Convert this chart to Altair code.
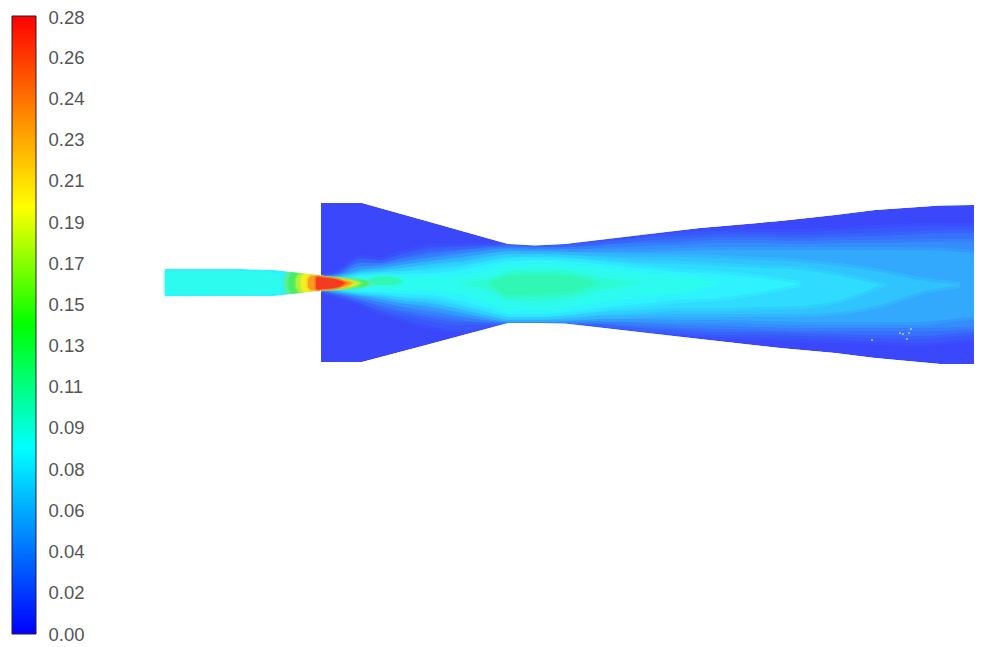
import altair as alt
import pandas as pd

# colour bar
tick_values = [0.0, 0.0188, 0.0377, 0.0565, 0.0753, 0.0942, 0.113, 0.1318, 0.1507, 0.1695, 0.1883, 0.2072, 0.226, 0.2448, 0.2637, 0.282]
bar_low, bar_high = 0.0, 0.2825
bar_left, bar_right = 12, 36
bar_offsets = [0.0, 0.30, 0.5, 0.69, 0.83, 1.0]
bar_colors = ["#0000ff", "#00ffff", "#00ff00", "#ffff00", "#ff9000", "#ff0000"]

# duct outline
wall_x = [321, 362, 430, 508, 535, 565, 700, 780, 835, 875, 940, 982]
wall_top = [203, 203, 222, 244, 245.5, 244, 228, 221, 215, 210, 205.5, 205]
wall_bot = [362, 362, 344, 323, 323, 323.5, 339, 348, 353, 358, 364, 364]
inlet_x = [165, 242, 275, 318, 321]
inlet_top = [269, 269, 270, 275, 275.5]
inlet_bot = [296.5, 296, 296, 291, 290.5]
inlet_core_x = [165, 200, 240, 280]
inlet_core_top = [272, 272, 272, 274]
inlet_core_bot = [294, 294, 294, 292]
mask_above = [190] * 12
mask_below = [378] * 12
inlet_mask_above = [255] * 5
inlet_mask_below = [310] * 5

# plume contours
px = [321, 340, 360, 380, 400, 430, 460, 490, 510, 540, 570, 600, 640, 680, 720, 760, 800, 840, 880, 920, 960, 982]
A_top = [277, 272, 258, 260, 254, 247, 246, 245, 245, 246, 244, 241, 237, 233, 231, 232, 232, 230, 228, 226, 226, 226]
A_bot = [290, 296, 303, 312, 318, 326, 330, 327, 323, 323, 323.5, 327, 331.5, 335, 337, 338, 339, 340, 342, 343, 340, 338]
B_top = [278, 274, 262, 263, 258, 252, 250, 248, 247, 248, 247, 245, 241, 239, 237, 237, 238, 237, 236, 234, 233, 233]
B_bot = [289, 294, 300, 307, 312, 318, 322, 322, 322, 322, 322, 324, 328, 330, 332, 332, 333, 334, 335, 336, 333, 332]
C_top = [279, 276, 266, 266, 262, 257, 253, 250, 249, 250, 250, 248, 246, 245, 243, 243, 244, 243, 243, 242, 242, 241]
C_bot = [288, 292, 297, 302, 307, 312, 317, 320, 321, 321, 321, 321, 323, 325, 326, 327, 328, 328, 328, 328, 327, 326]
D_top = [279, 277, 270, 268, 265, 261, 257, 253, 251, 252, 252, 252, 252, 251, 250, 250, 250, 250, 250, 250, 252, 254]
D_bot = [288, 291, 295, 299, 303, 307, 313, 318, 320, 320, 320, 319, 319, 320, 320, 321, 322, 322, 322, 322, 318, 316]
E_top = [280, 278, 273, 271, 268, 264, 261, 256, 254, 254, 255, 256, 257, 257, 258, 260, 262, 266, 272, 280, 285]
E_bot = [287, 290, 293, 296, 300, 303, 309, 316, 319, 319, 318, 316, 315, 314, 314, 314, 314, 312, 305, 292, 285]
F_top = [280, 279, 275, 273, 271, 268, 265, 260, 257, 257, 258, 260, 263, 264, 266, 268, 270, 276, 285]
F_bot = [287, 289, 292, 294, 297, 300, 306, 313, 317, 317, 315, 312, 310, 308, 308, 307, 306, 300, 285]
G_top = [281, 280, 276, 275, 274, 273, 270, 264, 261, 260, 261, 264, 268, 272, 274, 278, 284]
G_bot = [286, 288, 291, 292, 294, 295, 301, 309, 314, 314, 312, 308, 304, 300, 298, 292, 284]
H_top = [281, 281, 278, 277, 277, 277, 276, 270, 265, 264, 265, 268, 273, 276, 283]
H_bot = [286, 287, 289, 289, 290, 290, 294, 303, 309, 310, 307, 302, 296, 293, 283]
I_x = [460, 490, 510, 540, 570, 600, 640]
I_top = [283, 279, 272, 270, 272, 278, 283]
I_bot = [283, 291, 300, 301, 298, 290, 283]
J_x = [490, 510, 540, 570, 595]
J_top = [283, 276, 275, 276, 283]
J_bot = [283, 295, 294, 292, 283]
Q_x = [370, 378, 390, 402]
Q_top = [280, 277, 277, 281]
Q_bot = [281, 285, 285, 282]

# hot core around the nozzle
K_x = [284, 288, 297, 305, 312, 318, 322, 330, 340, 350, 360, 368, 374]
K_top = [279, 272, 273, 274, 275, 276, 277, 278, 278.5, 279.5, 280, 281, 283]
K_bot = [288, 294, 293, 292, 291, 290.5, 289.5, 289, 288.5, 288, 287, 286, 283]
L_x = [289, 293, 300, 306, 312, 318, 322, 330, 340, 350, 358, 364, 368]
L_top = [279, 272.5, 273.5, 274, 275, 276, 277, 278, 278.5, 279.5, 280.5, 281, 283]
L_bot = [287, 293.5, 292.5, 292, 291, 290.5, 289.5, 289, 288.5, 288, 286.5, 286, 283]
M_x = [296, 300, 306, 312, 318, 322, 330, 340, 350, 356, 361]
M_top = [279, 273.5, 274, 275, 276, 277, 278, 278.5, 280, 281, 283]
M_bot = [287, 292.5, 292, 291, 290.5, 289.5, 289, 288.5, 287, 286, 283]
N_x = [301, 304, 312, 318, 322, 330, 340, 350, 355]
N_top = [280, 274, 275, 276, 277, 278, 279, 281, 283]
N_bot = [286, 292, 291, 290.5, 289.5, 289, 288, 286, 283]
O_x = [308, 312, 318, 322, 330, 340, 347, 352]
O_top = [279, 276, 276, 277, 278, 279.5, 281, 283]
O_bot = [287, 290, 290.5, 289.5, 289, 287.5, 286, 283]
P_x = [316, 318, 322, 330, 338, 345]
P_top = [278, 277, 277.5, 278.5, 280, 283]
P_bot = [288, 289.5, 289, 288.5, 287, 283]

# contour levels and the shades the field uses for them
level_values = [0.030, 0.036, 0.042, 0.048, 0.054, 0.060, 0.066, 0.072, 0.078, 0.084, 0.090, 0.100, 0.130, 0.170, 0.190, 0.230, 0.270]
level_colors = ["#3b47fb", "#3a58fb", "#3872fb", "#358dfc", "#32a9fd", "#30c4fe", "#2fdcff", "#2ef2ff", "#2efbf0",
                "#2efbd4", "#30f8b4", "#55f0a0", "#48ee60", "#b0f040", "#f2f020", "#ff9a20", "#f43a20"]

# stray empty cells near the outlet
speck_x = [872, 900, 903, 909, 911, 907]
speck_y = [340, 333, 334, 333, 329, 339]

W, H = 966, 635
x_scale = alt.Scale(domain=[8, 974], nice=False, zero=False)
y_scale = alt.Scale(domain=[643, 8], nice=False, zero=False)
fill_scale = alt.Scale(domain=level_values, range=level_colors)


def band(value, xs, top, bot, soft=0):
    frame = pd.DataFrame({"x": xs[:len(top)], "top": top, "bot": bot, "value": value})
    props = {"interpolate": "monotone" if soft else "linear"}
    if soft:
        props.update(strokeWidth=soft, strokeOpacity=0.45)
    enc = dict(
        x=alt.X("x:Q", scale=x_scale, axis=None),
        y=alt.Y("top:Q", scale=y_scale, axis=None),
        y2="bot:Q",
        fill=alt.Fill("value:Q", scale=fill_scale, legend=None),
    )
    if soft:
        enc["stroke"] = alt.Stroke("value:Q", scale=fill_scale, legend=None)
    return alt.Chart(frame).mark_area(**props).encode(**enc)


def mask(xs, edge, far):
    frame = pd.DataFrame({"x": xs, "edge": edge, "far": far})
    return alt.Chart(frame).mark_area(interpolate="linear", color="#ffffff").encode(
        x=alt.X("x:Q", scale=x_scale, axis=None),
        y=alt.Y("edge:Q", scale=y_scale, axis=None),
        y2="far:Q",
    )


bands = [
    band(0.072, inlet_x, inlet_top, inlet_bot),
    band(0.078, inlet_core_x, inlet_core_top, inlet_core_bot, 3),
    band(0.030, wall_x, wall_top, wall_bot),
    band(0.036, px, A_top, A_bot, 6),
    band(0.042, px, B_top, B_bot, 6),
    band(0.048, px, C_top, C_bot, 6),
    band(0.054, px, D_top, D_bot, 6),
    band(0.060, px, E_top, E_bot, 6),
    band(0.066, px, F_top, F_bot, 6),
    band(0.072, px, G_top, G_bot, 6),
    band(0.078, px, H_top, H_bot, 6),
    band(0.084, I_x, I_top, I_bot, 5),
    band(0.090, J_x, J_top, J_bot, 5),
    band(0.090, Q_x, Q_top, Q_bot, 3),
    band(0.100, K_x, K_top, K_bot, 3),
    band(0.130, L_x, L_top, L_bot, 3),
    band(0.170, M_x, M_top, M_bot, 3),
    band(0.190, N_x, N_top, N_bot, 3),
    band(0.230, O_x, O_top, O_bot, 3),
    band(0.270, P_x, P_top, P_bot, 3),
    mask(wall_x, wall_top, mask_above),
    mask(wall_x, wall_bot, mask_below),
    mask(inlet_x, inlet_top, inlet_mask_above),
    mask(inlet_x, inlet_bot, inlet_mask_below),
]

specks = alt.Chart(pd.DataFrame({"x": speck_x, "y": speck_y})).mark_circle(size=3, color="#ffffff", opacity=0.9).encode(
    x=alt.X("x:Q", scale=x_scale, axis=None),
    y=alt.Y("y:Q", scale=y_scale, axis=None),
)

field = alt.layer(*bands, specks)

gradient = alt.Gradient(
    gradient="linear", x1=0, y1=1, x2=0, y2=0,
    stops=[alt.GradientStop(offset=o, color=c) for o, c in zip(bar_offsets, bar_colors)],
)
unit = (bar_high - bar_low) / 618
bar = alt.Chart(pd.DataFrame({"x": [bar_left], "x2": [bar_right], "lo": [bar_low], "hi": [bar_high]})).mark_rect(
    color=gradient, stroke="#2a1a30", strokeWidth=1
).encode(
    x=alt.X("x:Q", scale=x_scale, axis=None),
    x2="x2:Q",
    y=alt.Y(
        "lo:Q",
        scale=alt.Scale(domain=[bar_low - 9 * unit, bar_high + 8 * unit], nice=False, zero=False),
        axis=alt.Axis(
            values=tick_values, format=".2f", title=None, domain=False, ticks=False, grid=False,
            labelAlign="left", labelPadding=-40, labelFont="Liberation Sans", labelFontSize=18.5,
            labelColor="#555555", labelOverlap=False, labelBound=False, labelFlush=False,
        ),
    ),
    y2="hi:Q",
)

chart = alt.layer(field, bar).resolve_scale(y="independent").properties(
    width=W, height=H, padding=0, autosize=alt.AutoSizeParams(type="none"), background="#ffffff"
).configure_view(stroke=None)

chart.save("out.html", embed_options={"renderer": "svg", "actions": False})
